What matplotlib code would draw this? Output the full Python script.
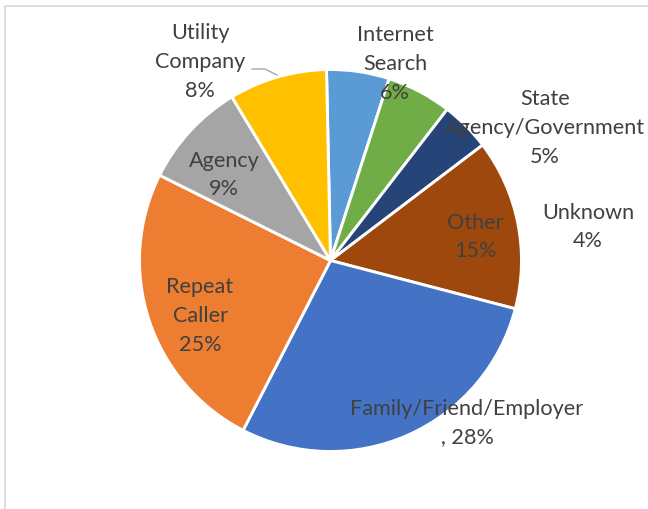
import matplotlib.pyplot as plt

# slices, clockwise from 12 o'clock (shares)
labels = ["Internet\nSearch", "State\nAgency/Government", "Unknown", "Other",
          "Family/Friend/Employer\n,", "Repeat\nCaller", "Agency", "Utility\nCompany"]
values = [5.3, 5.5, 4.2, 14.4, 28.5, 24.8, 9.0, 8.3]
pct_labels = ["6%", "5%", "4%", "15%", "28%", "25%", "9%", "8%"]
colors = ["#5B9BD5", "#70AD47", "#264478", "#9E480E",
          "#4472C4", "#ED7D31", "#A5A5A5", "#FFC000"]

W, H = 648, 510
fig = plt.figure(figsize=(W / 100, H / 100), dpi=100)
ax = fig.add_axes([0, 0, 1, 1])

cx, cy, r = 330.5, H - 261.5, 191
ax.pie(values, colors=colors, startangle=91.2, counterclock=False,
       center=(cx, cy), radius=r,
       wedgeprops=dict(edgecolor="white", linewidth=2.1))
ax.set_xlim(0, W)
ax.set_ylim(0, H)
ax.set_aspect("equal")
ax.axis("off")

# label positions (pixels from top-left)
label_pos = [(395, 64), (545, 128), (588, 227), (475, 237),
             (467, 423), (200, 316), (224, 175), (200, 62)]
for lab, p, (x, y) in zip(labels, pct_labels, label_pos):
    txt = lab + " " + p if lab.endswith(",") else lab + "\n" + p
    ax.text(x, H - y, txt, ha="center", va="center", fontsize=15.6,
            family="Lato", color="#404040", linespacing=1.55)

# leader line for Utility Company
ax.plot([252, 265, 277], [H - 70, H - 70, H - 76], color="#A6A6A6", lw=1)

# chart frame
ax.plot([4.5, 4.5, W], [0, H - 7, H - 7], color="#D9D9D9", lw=1.2, clip_on=False)

fig.savefig("out.png", dpi=100)
